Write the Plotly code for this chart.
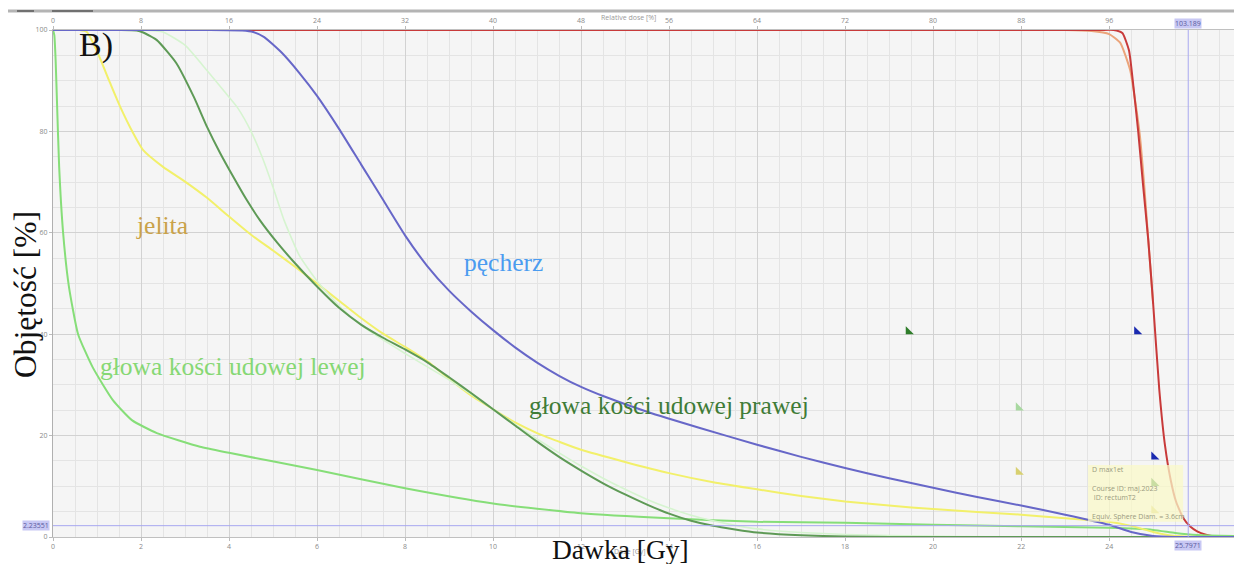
import plotly.graph_objects as go

# ---------------- data (dose in Gy, volume in %) ----------------
red_dose = [0, 23.0, 23.8, 24.1, 24.3, 24.45, 24.55, 24.66, 24.77, 24.89, 25.0, 25.14, 25.27, 25.4, 25.52, 25.68, 25.85, 26.0, 26.2, 26.4, 26.6, 26.86]
red_vol = [100, 100, 100, 100, 99.4, 96, 89, 80, 69.5, 58.5, 46, 29, 18, 11.2, 7.0, 3.8, 2.0, 1.1, 0.45, 0.1, 0, 0]

orange_dose = [0, 23.0, 23.6, 24.0, 24.25, 24.48, 24.6, 24.7, 24.8, 24.89, 25.0]
orange_vol = [100, 100, 99.8, 99.2, 97.5, 92, 85.5, 79, 69, 58.5, 46]

bladder_dose = [0, 3.5, 4.3, 4.55, 4.8, 5.2, 5.6, 6.0, 6.5, 7.0, 7.5, 8.0, 8.5, 9.0, 9.5, 10.0, 10.5, 11.0, 11.5, 12.0, 12.5, 13.5, 14.7, 16.0, 17.0, 18.0, 19.0, 20.0, 21.0, 22.0, 23.0, 24.0, 24.5, 25.0, 25.5, 26.86]
bladder_vol = [100, 100, 99.9, 99.6, 98.6, 95.5, 91.5, 87, 80.5, 73.5, 66.5, 59.5, 53.5, 48.6, 44.5, 40.8, 37.4, 34.4, 31.8, 29.6, 27.8, 24.7, 21.5, 18.2, 15.8, 13.6, 11.6, 9.7, 7.9, 6.2, 4.4, 2.4, 1.0, 0.2, 0, 0]

right_head_dose = [0, 1.5, 1.9, 2.05, 2.36, 2.8, 3.2, 3.5, 3.8, 4.1, 4.4, 4.7, 5.1, 5.5, 6.0, 6.5, 7.0, 7.5, 8.0, 8.5, 9.0, 9.5, 10.0, 10.5, 11.0, 11.5, 12.0, 12.5, 13.0, 13.5, 14.0, 14.5, 15.0, 15.5, 16.0, 17.0, 18.0, 19.0, 26.86]
right_head_vol = [100, 100, 99.9, 99.5, 98, 93.5, 86.8, 80.9, 75.7, 71, 66.5, 62.5, 58, 54, 49.4, 45.2, 41.9, 39.3, 37.0, 34.5, 31.5, 28.4, 25.2, 22.0, 18.8, 15.8, 13.1, 10.6, 8.4, 6.4, 4.6, 3.2, 2.2, 1.5, 0.9, 0.35, 0.1, 0, 0]

pale_dose = [0, 2.0, 2.5, 3.0, 3.5, 3.9, 4.2, 4.5, 4.75, 5.0, 5.25, 5.6, 6.0, 6.5, 7.0, 7.5, 8.0, 8.5, 9.0, 9.5, 10.0, 10.5, 11.0, 11.5, 12.0, 12.5, 13.0, 13.5, 14.0, 14.5, 15.0, 15.5, 16.0, 17.0, 18.0, 19.0, 20.5, 22.0, 26.86]
pale_vol = [100, 100, 99.6, 97, 92, 87.8, 84.6, 80, 75, 69, 62.5, 55.5, 50.5, 45.6, 41.8, 38.9, 36.2, 33.6, 31.0, 28.2, 25.2, 22.2, 19.3, 16.6, 14.0, 11.6, 9.4, 7.4, 5.7, 4.3, 3.2, 2.3, 1.6, 0.9, 0.5, 0.3, 0.1, 0, 0]

bowel_dose = [0, 0.6, 0.77, 0.99, 1.3, 1.52, 1.82, 2.05, 2.5, 3.0, 3.5, 4.0, 4.5, 5.0, 5.5, 6.0, 6.5, 7.0, 7.5, 8.0, 8.5, 9.0, 9.5, 10.0, 10.5, 11.0, 11.5, 12.0, 13.0, 14.0, 15.0, 16.0, 17.0, 18.0, 19.0, 20.0, 22.0, 23.0, 24.0, 24.5, 25.0, 25.4, 26.0, 26.86]
bowel_vol = [100, 100, 99.6, 96, 89.5, 85, 79.7, 76.3, 73, 70.1, 66.9, 63.2, 59.6, 56.5, 53.3, 50, 46.6, 43.2, 40.1, 37.5, 34.7, 31.2, 27.9, 25.2, 22.6, 20.5, 18.8, 17.2, 14.8, 12.6, 10.8, 9.4, 8.1, 7.0, 6.2, 5.5, 4.4, 3.7, 3.0, 2.2, 1.0, 0.3, 0, 0]

left_head_dose = [0, 0.03, 0.06, 0.09, 0.14, 0.23, 0.36, 0.57, 0.9, 1.36, 1.8, 2.36, 3.34, 4.0, 6.0, 8.0, 10.0, 12.0, 14.0, 16.0, 18.0, 20.0, 22.0, 24.0, 25.0, 25.5, 26.0, 26.86]
left_head_vol = [100, 99, 94, 86, 73, 60, 49.5, 40, 33.5, 27, 23, 20.5, 17.8, 16.6, 13.2, 9.6, 6.6, 4.7, 3.7, 3.0, 2.8, 2.4, 2.1, 1.8, 1.4, 0.8, 0.4, 0.2]

marker_dose = [19.44, 21.94, 21.94, 24.63, 25.02, 25.02, 25.02]
marker_vol = [40.5, 25.5, 12.8, 40.5, 15.8, 10.6, 5.2]
marker_colors = ["#2f7d2a", "#a8d8a0", "#d8d070", "#1a2ab0", "#1a2ab0", "#3a8a30", "#d8d070"]

cursor_dose = 25.7971
cursor_rel = 103.189
cursor_vol = 2.23551

x_ticks = list(range(0, 25, 2))
y_ticks = [0, 20, 40, 60, 80, 100]
rel_ticks = list(range(0, 97, 8))

tooltip_lines = ["D max1et", "Course ID: maj.2023", " ID: rectumT2", "Equiv. Sphere Diam. = 3.6cm"]

X_MAX = 26.86

# ---------------- geometry (page has an 8 px body margin) ----------------
OFF = 8
W_FIG, H_FIG = 1242 - OFF, 564 - OFF
PL, PT, PW, PH = 45, 22, 1182, 507          # plot area in figure pixels
PR = W_FIG - PL - PW
PB = H_FIG - PT - PH


def sx(px):
    """screen x pixel -> paper x"""
    return (px - OFF - PL) / PW


def sy(py):
    """screen y pixel -> paper y"""
    return (OFF + PT + PH - py) / PH


fig = go.Figure()


def add_curve(x, y, color, width=2.0):
    fig.add_trace(go.Scatter(x=x, y=y, mode="lines",
                             line=dict(color=color, width=width, shape="spline", smoothing=0.5),
                             hoverinfo="skip", showlegend=False))


add_curve(orange_dose, orange_vol, "#eba47a", 2.0)
add_curve(red_dose, red_vol, "#c83a3a", 2.0)
add_curve(left_head_dose, left_head_vol, "#86de78", 2.0)
add_curve(bowel_dose, bowel_vol, "#f2f06a", 2.0)
add_curve(pale_dose, pale_vol, "#d6f4d0", 1.6)
add_curve(right_head_dose, right_head_vol, "#5e9a56", 2.0)
add_curve(bladder_dose, bladder_vol, "#6767c8", 2.0)

fig.add_trace(go.Scatter(x=marker_dose, y=marker_vol, mode="markers",
                         marker=dict(symbol="triangle-sw", size=9, color=marker_colors,
                                     line=dict(width=0)),
                         hoverinfo="skip", showlegend=False))

# invisible trace for the top (relative dose) axis
fig.add_trace(go.Scatter(x=[rel_ticks[0]], y=[None], xaxis="x2", mode="lines",
                         hoverinfo="skip", showlegend=False))

# cursor lines
fig.add_hline(y=cursor_vol, line=dict(color="#a8a8f0", width=1))
fig.add_vline(x=cursor_dose, line=dict(color="#a8a8f0", width=1))

# tooltip box
fig.add_shape(type="rect", x0=23.52, x1=25.68, y0=3.0, y1=14.2, xref="x", yref="y",
              fillcolor="rgba(250,248,200,0.75)", line=dict(width=0), layer="above")
tip_y = [13.3, 9.5, 7.8, 4.1]
for t, yy in zip(tooltip_lines, tip_y):
    fig.add_annotation(x=23.57, y=yy, text=t, showarrow=False, xanchor="left",
                       font=dict(family="Open Sans", size=7, color="#9a9a80"))

# window chrome line at top
fig.add_shape(type="line", xref="paper", yref="paper", x0=sx(0), x1=sx(1242),
              y0=sy(11), y1=sy(11), line=dict(color="#b4b4b4", width=3))
for a, b in [(17, 34), (52, 93)]:
    fig.add_shape(type="line", xref="paper", yref="paper", x0=sx(a), x1=sx(b),
                  y0=sy(11), y1=sy(11), line=dict(color="#707070", width=2))

serif = "Liberation Serif"
lab = 25.5
fig.add_annotation(x=0.98, y=97.0, text="B)", showarrow=False, xanchor="center", yanchor="middle",
                   font=dict(family=serif, size=34, color="#111111"))
fig.add_annotation(x=2.48, y=61.5, text="jelita", showarrow=False, xanchor="center", yanchor="middle",
                   font=dict(family=serif, size=lab, color="#c9a24a"))
fig.add_annotation(x=10.23, y=54.2, text="pęcherz", showarrow=False, xanchor="center", yanchor="middle",
                   font=dict(family=serif, size=lab, color="#4b9cf0"))
fig.add_annotation(x=4.09, y=33.7, text="głowa kości udowej lewej", showarrow=False,
                   xanchor="center", yanchor="middle",
                   font=dict(family=serif, size=lab, color="#86d874"))
fig.add_annotation(x=14.0, y=26.0, text="głowa kości udowej prawej", showarrow=False,
                   xanchor="center", yanchor="middle",
                   font=dict(family=serif, size=lab, color="#3f7c37"))

# axis titles
fig.add_annotation(xref="paper", yref="paper", x=sx(25), y=sy(295),
                   text="Objętość [%]", textangle=-90, showarrow=False,
                   xanchor="center", yanchor="middle",
                   font=dict(family=serif, size=31.5, color="#111111"))
fig.add_annotation(xref="paper", yref="paper", x=sx(630), y=sy(551),
                   text="Dose [Gy]", showarrow=False, xanchor="center", yanchor="middle",
                   font=dict(family="Open Sans", size=7, color="#999999"))
fig.add_annotation(xref="paper", yref="paper", x=sx(620), y=sy(549),
                   text="Dawka [Gy]", showarrow=False, xanchor="center", yanchor="middle",
                   font=dict(family=serif, size=27.5, color="#111111"))
fig.add_annotation(xref="paper", yref="paper", x=sx(628), y=sy(17),
                   text="Relative dose [%]", showarrow=False, xanchor="center", yanchor="middle",
                   font=dict(family="Open Sans", size=7, color="#999999"))

# highlighted cursor labels
hl_font = dict(family="Open Sans", size=7, color="#5a5aa0")
fig.add_annotation(xref="paper", y=cursor_vol, x=sx(50), text=f"{cursor_vol:.5f}", showarrow=False,
                   xanchor="right", yanchor="middle", bgcolor="#c8c8f4", font=hl_font, borderpad=0)
fig.add_annotation(x=cursor_dose, yref="paper", y=sy(545), text=f"{cursor_dose:.4f}",
                   showarrow=False, xanchor="center", yanchor="middle",
                   bgcolor="#c8c8f4", font=hl_font, borderpad=0)
fig.add_annotation(x=cursor_dose, yref="paper", y=sy(24), text=f"{cursor_rel:.3f}",
                   showarrow=False, xanchor="center", yanchor="middle",
                   bgcolor="#c8c8f4", font=hl_font, borderpad=0)

tick_font = dict(family="Open Sans", size=7, color="#8a8a8a")
fig.update_layout(
    width=W_FIG, height=H_FIG,
    margin=dict(l=PL, r=PR, t=PT, b=PB, autoexpand=False),
    paper_bgcolor="white", plot_bgcolor="#f5f5f5",
    showlegend=False,
    xaxis=dict(range=[0, X_MAX], tickvals=x_ticks, ticks="outside", ticklen=3,
               tickcolor="#bbbbbb", tickfont=tick_font, showgrid=True, automargin=False,
               gridcolor="#d2d2d2", gridwidth=1.2, zeroline=False,
               showline=True, linecolor="#c0c0c0", mirror=True,
               minor=dict(dtick=0.5, showgrid=True, gridcolor="#e4e4e4", gridwidth=1)),
    xaxis2=dict(range=[0, X_MAX * 4], overlaying="x", side="top", tickvals=rel_ticks,
                ticks="outside", ticklen=3, tickcolor="#bbbbbb", tickfont=tick_font,
                showgrid=False, zeroline=False, showline=False, automargin=False),
    yaxis=dict(range=[0, 100], tickvals=y_ticks, ticks="outside", ticklen=3,
               tickcolor="#bbbbbb", tickfont=tick_font, showgrid=True, automargin=False,
               gridcolor="#d2d2d2", gridwidth=1.2, zeroline=False,
               showline=True, linecolor="#b0b0b0", mirror=True,
               minor=dict(dtick=5, showgrid=True, gridcolor="#e4e4e4", gridwidth=1)),
)

fig.write_html("out.html")
